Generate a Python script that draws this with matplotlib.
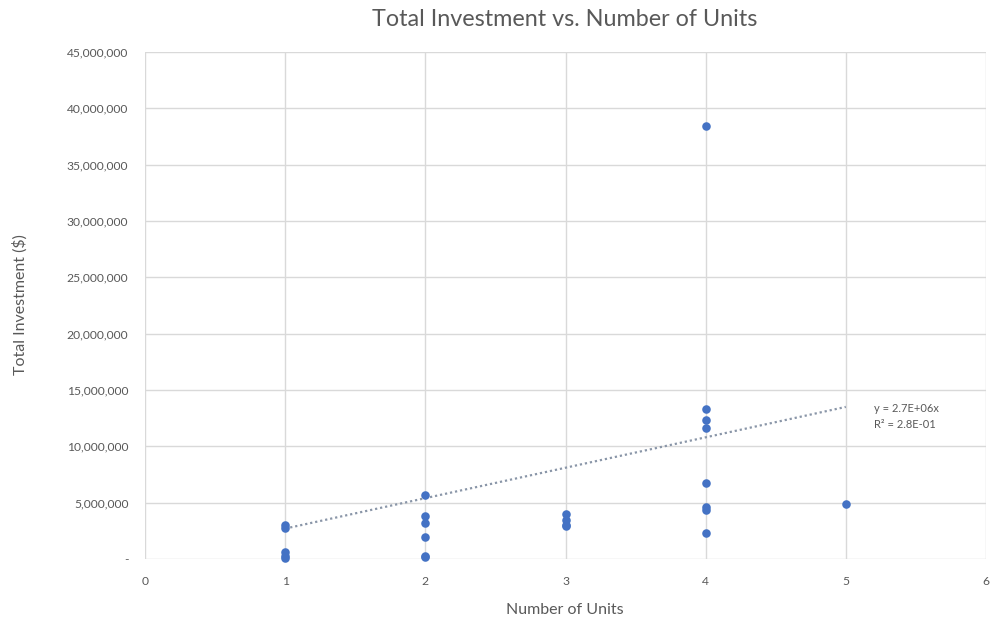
import matplotlib
matplotlib.use("Agg")
import matplotlib.pyplot as plt
import numpy as np
from matplotlib.ticker import FuncFormatter, MultipleLocator

# Data
units = [1, 1, 1, 1, 1,
         2, 2, 2, 2, 2, 2,
         3, 3, 3, 3,
         4, 4, 4, 4, 4, 4, 4, 4,
         5]
investment = [3000000, 2750000, 600000, 300000, 50000,
              5650000, 3850000, 3200000, 1950000, 300000, 150000,
              3950000, 3450000, 3050000, 2900000,
              38400000, 13350000, 12300000, 11600000, 6750000, 4600000, 4350000, 2350000,
              4900000]
trend_slope = 2.7e6
trend_r2 = 0.28
trend_x = [1, 5]

title = "Total Investment vs. Number of Units"
xlabel = "Number of Units"
ylabel = "Total Investment ($)"

font = ["Lato", "DejaVu Sans"]
txt = "#595959"

fig = plt.figure(figsize=(9.9, 6.19), dpi=100)
ax = fig.add_axes([145/990, 1-559/619, (986-145)/990, (559-52)/619])

ax.scatter(units, investment, s=38, color="#4472C4", zorder=3, linewidths=0,
           clip_on=False)
tx = np.array(trend_x, dtype=float)
ax.plot(tx, trend_slope * tx, color="#8a96a8", linewidth=1.6,
        linestyle=(0, (1, 1.3)), zorder=2)

ax.text(5.2, 13.4e6, f"y = {trend_slope:.1E}x", fontsize=8, color=txt,
        family=font, va="center", ha="left")
ax.text(5.2, 11.9e6, f"R² = {trend_r2:.1E}", fontsize=8, color=txt,
        family=font, va="center", ha="left")

ax.set_xlim(0, 6)
ax.set_ylim(0, 45e6)
ax.xaxis.set_major_locator(MultipleLocator(1))
ax.yaxis.set_major_locator(MultipleLocator(5e6))
ax.yaxis.set_major_formatter(FuncFormatter(lambda v, p: "-" if v == 0 else f"{v:,.0f}"))
ax.grid(True, color="#d9d9d9", linewidth=1)
ax.set_axisbelow(True)
for s in ax.spines.values():
    s.set_visible(False)
ax.tick_params(length=0, labelsize=8.7, colors=txt, pad=12)
for lab in ax.get_xticklabels() + ax.get_yticklabels():
    lab.set_family(font)

fig.text(565/990, 1-19/619, title, ha="center", va="center", fontsize=16.8,
         color=txt, family=font)
fig.text(565/990, 1-610/619, xlabel, ha="center", va="center", fontsize=11.5,
         color=txt, family=font)
fig.text(20/990, 1-305/619, ylabel, ha="center", va="center", fontsize=11.5,
         color=txt, family=font, rotation=90)

fig.savefig("out.png", dpi=100, facecolor="white")
